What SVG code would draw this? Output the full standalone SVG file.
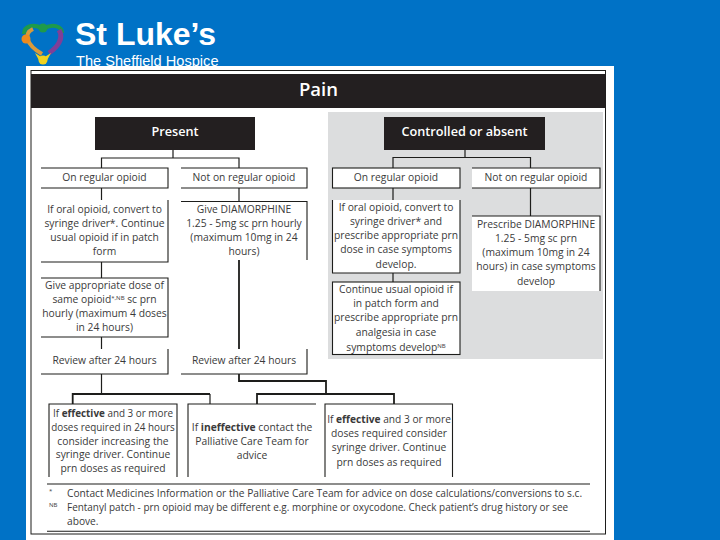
<svg xmlns="http://www.w3.org/2000/svg" width="720" height="540" viewBox="0 0 720 540">
<style>
text{font-family:"Open Sans","Noto Sans","Liberation Sans",sans-serif;fill:#3a3a3a;font-size:10.3px;text-anchor:middle}
.h{fill:#fff;font-weight:600;font-size:12.7px}
.b{fill:none;stroke:#1d1d1b;stroke-width:1.1}
.w{fill:#fff;stroke:none}
.k{fill:#231f20;stroke:none}
.c{fill:none;stroke:#1d1d1b;stroke-width:1.2}
.t{fill:none;stroke:#1d1d1b;stroke-width:1.8}
.n{text-anchor:start;font-size:10.2px}
.m{font-size:9.9px}
.s{font-size:6px}
.e{font-weight:700}
</style>
<rect width="720" height="540" fill="#0072c6"/>
<g id="logo">
<path d="M24 34C24 26 33 23 43 29C52 23 62 26 62 33" fill="none" stroke="#1e9a4b" stroke-width="4"/>
<circle cx="43" cy="28" r="4.500" fill="#1e9a4b"/>
<path d="M33 29C24 33 25 44 42 54" fill="none" stroke="#d99a3a" stroke-width="4"/>
<circle cx="26" cy="39" r="4.500" fill="#ee8a1d"/>
<path d="M59 30C64 38 58 47 49 53" fill="none" stroke="#7f3f98" stroke-width="5"/>
<path d="M35 53L43 58L51 53L45 64H41Z" fill="#f0d21f"/>
<circle cx="43" cy="60" r="4.500" fill="#f0d21f"/>
<text x="75" y="45" style="text-anchor:start;fill:#fff;font-family:'Liberation Sans',sans-serif;font-weight:700;font-size:32px">St Luke’s</text>
<text x="76" y="66" style="text-anchor:start;fill:#fff;font-family:'Liberation Sans',sans-serif;font-size:14.6px">The Sheffield Hospice</text>
</g>
<rect x="26" y="66" width="588" height="474" fill="#fff"/>
<rect x="31" y="70.500" width="574.500" height="463.500" fill="none" stroke="#1d1d1b" stroke-width="1"/>
<rect x="328" y="112" width="275" height="247" fill="#dcddde"/>
<g id="title"><rect class="k" x="31" y="74" width="574.500" height="34"/><text class="h" x="318.500" y="96" style="font-size:18.5px">Pain</text></g>
<g id="connectors">
<path class="c" d="M173 150V158M101.500 168V158H239V168M101.500 188V200M101.500 262V278M101.500 337V349"/>
<path class="c" d="M239 188V201M101.500 374V394"/>
<path class="t" d="M239 260V349M239 374V381H326V394M72.700 404V394H210"/>
<path class="c" d="M210 394V404"/>
<path class="t" d="M257 404V394H394V404"/>
<path class="c" d="M465 150V157.500M393 168V157.500H530.500V168M393 188V200M393 273V282M530.500 188V216"/>
</g>
<g id="present"><rect class="k" x="95" y="117" width="160" height="33"/><text class="h" x="175" y="136">Present</text></g>
<g id="controlled"><rect class="k" x="384" y="117" width="161" height="33"/><text class="h" x="464.500" y="136">Controlled or absent</text></g>
<g id="l-on"><path class="b" d="M41 168H168V188H41"/><text x="104.500" y="181">On regular opioid</text></g>
<g id="l-not"><path class="b" d="M181 168H307V188H181"/><text x="244" y="181">Not on regular opioid</text></g>
<g id="l-convert"><path class="b" d="M168 200V262H41"/>
<text x="104.500" y="213">If oral opioid, convert to</text><text x="104.500" y="227">syringe driver*. Continue</text><text x="104.500" y="241">usual opioid if in patch</text><text x="104.500" y="255">form</text></g>
<g id="l-give"><path class="b" d="M41 278H168V337H41"/>
<text x="104.500" y="289">Give appropriate dose of</text><text x="104.500" y="303">same opioid<tspan class="s" dy="-3">*,NB</tspan><tspan dy="3"> sc prn</tspan></text><text x="104.500" y="317">hourly (maximum 4 doses</text><text x="104.500" y="331">in 24 hours)</text></g>
<g id="l-review"><path class="b" d="M168 349V374H41"/><text x="104.500" y="364">Review after 24 hours</text></g>
<g id="m-give"><path class="b" d="M181 201.500H307V260"/>
<text x="244" y="213">Give DIAMORPHINE</text><text x="244" y="227">1.25 - 5mg sc prn hourly</text><text x="244" y="241">(maximum 10mg in 24</text><text x="244" y="255">hours)</text></g>
<g id="m-review"><path class="b" d="M307 349V374H181"/><text x="244" y="364">Review after 24 hours</text></g>
<g id="r-on"><rect x="332.500" y="168" width="127.500" height="20" fill="#fff" stroke="#1d1d1b" stroke-width="1.100"/><text x="396" y="181">On regular opioid</text></g>
<g id="r-not"><rect class="w" x="472" y="168" width="128" height="20"/><path class="b" d="M472 168H600V188H472"/><text x="536" y="181">Not on regular opioid</text></g>
<g id="r-convert"><rect class="w" x="332.500" y="200" width="127.500" height="73"/><path class="b" d="M332.500 200V273H460V200"/>
<text x="396" y="211">If oral opioid, convert to</text><text x="396" y="225">syringe driver* and</text><text x="396" y="239">prescribe appropriate prn</text><text x="396" y="253">dose in case symptoms</text><text x="396" y="268">develop.</text></g>
<g id="r-continue"><rect x="332.500" y="282" width="127.500" height="72.500" fill="#fff" stroke="#1d1d1b" stroke-width="1.100"/>
<text x="396" y="293">Continue usual opioid if</text><text x="396" y="307">in patch form and</text><text x="396" y="321">prescribe appropriate prn</text><text x="396" y="336">analgesia in case</text><text x="396" y="351">symptoms develop<tspan class="s" dy="-3">NB</tspan></text></g>
<g id="r-prescribe"><rect class="w" x="472" y="216" width="128" height="75"/><path class="b" d="M472 216H600V291"/>
<text x="536" y="228">Prescribe DIAMORPHINE</text><text x="536" y="242">1.25 - 5mg sc prn</text><text x="536" y="256">(maximum 10mg in 24</text><text x="536" y="270">hours) in case symptoms</text><text x="536" y="285">develop</text></g>
<g id="b-effective"><path class="b" d="M49 477V404H177V477"/>
<text class="m" x="113" y="417">If <tspan class="e">effective</tspan> and 3 or more</text><text class="m" x="113" y="431">doses required in 24 hours</text><text x="113" y="445">consider increasing the</text><text x="113" y="458">syringe driver. Continue</text><text x="113" y="472">prn doses as required</text></g>
<g id="b-ineffective"><path class="b" d="M188 477V404H316"/>
<text x="252" y="431">If <tspan class="e">ineffective</tspan> contact the</text><text x="252" y="445">Palliative Care Team for</text><text x="252" y="459">advice</text></g>
<g id="b-effective2"><path class="b" d="M325 477V404H452.500V477"/>
<text x="389" y="423" style="font-size:10.2px">If <tspan class="e">effective</tspan> and 3 or more</text><text x="389" y="437">doses required consider</text><text x="389" y="451">syringe driver. Continue</text><text x="389" y="466">prn doses as required</text></g>
<g id="footnotes">
<path class="b" d="M47 484H590M47 531.300H590"/>
<text class="n s" x="49" y="493" style="font-size:6px">*</text><text class="n s" x="49" y="507" style="font-size:6px">NB</text>
<text class="n" x="67" y="497">Contact Medicines Information or the Palliative Care Team for advice on dose calculations/conversions to s.c.</text>
<text class="n" x="67" y="511" style="font-size:9.95px">Fentanyl patch - prn opioid may be different e.g. morphine or oxycodone. Check patient’s drug history or see</text>
<text class="n" x="67" y="525">above.</text>
</g>
</svg>
